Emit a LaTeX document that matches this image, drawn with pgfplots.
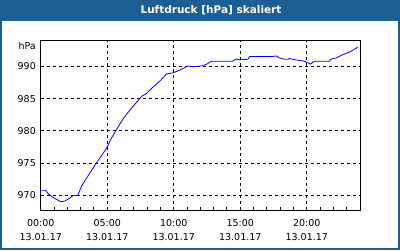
\documentclass[border=0pt]{standalone}
\usepackage{fontspec}
\setmainfont{DejaVu Sans}
\usepackage{pgfplots}
\pgfplotsset{compat=1.18}
\definecolor{titleblue}{RGB}{28,95,148}
\begin{document}
\begin{tikzpicture}[x=1pt,y=1pt]
\useasboundingbox (0,0) rectangle (400,250);
\fill[titleblue] (0,0) rectangle (400,250);
\fill[white] (2,2.5) rectangle (398,229);
\node[text=white,font=\bfseries\fontsize{10.5}{12}\selectfont] at (211,239.5) {Luftdruck [hPa] skaliert};
\node[anchor=east,font=\fontsize{9.5}{11}\selectfont,inner sep=0pt] at (36,204.3) {hPa};
\begin{axis}[
  at={(40.7pt,40pt)}, anchor=south west,
  scale only axis, width=319.3pt, height=170pt,
  xmin=0, xmax=24, ymin=967.72, ymax=994.08,
  axis line style={line width=1pt,black},
  xtick={0,5,10,15,20},
  xticklabels={{00:00\\13.01.17},{05:00\\13.01.17},{10:00\\13.01.17},{15:00\\13.01.17},{20:00\\13.01.17}},
  xticklabel style={align=center,font=\fontsize{9.5}{14.3}\selectfont,inner sep=0pt},
  xticklabel shift=9pt,
  ytick={970,975,980,985,990},
  yticklabel style={font=\fontsize{9.5}{11}\selectfont,inner sep=0pt},
  yticklabel shift=4.7pt,
  /pgf/number format/assume math mode=true,
  /pgf/number format/1000 sep={},
  major tick length=0pt,
  minor xtick={1,2,3,4,6,7,8,9,11,12,13,14,16,17,18,19,21,22,23},
  minor tick length=3pt,
  minor tick style={line width=1pt,black},
  xtick pos=bottom, ytick pos=left,
  tick align=inside,
  grid=major,
  major grid style={dash pattern=on 3pt off 3pt,line width=1pt,black},
]
\addplot[blue,line width=0.8pt] coordinates {
(0,970.78) (0.35,970.78) (0.55,970.3) (0.8,969.85) (1.17,969.4) (1.5,969.0)
(1.8,969.1) (2.15,969.5) (2.42,969.95) (2.8,970.0) (3.05,971.35) (3.3,972.2)
(3.55,973.0) (4.2,975.05) (4.95,977.3) (5.3,978.8) (5.7,980.2) (6.2,981.9)
(6.7,983.2) (7.07,984.1) (7.57,985.3) (7.95,985.8) (8.45,986.8) (8.95,987.7)
(9.45,988.8) (9.95,989.0) (10.45,989.4) (11.07,990.05) (11.4,989.95) (12.07,990.05)
(12.45,990.3) (12.82,990.77) (14.4,990.77) (14.7,991.13) (14.95,991.0) (15.57,991.1)
(15.7,991.5) (17.33,991.5) (17.7,991.6) (17.95,991.3) (18.3,991.1) (18.6,991.1)
(18.7,991.2) (19.2,990.98) (19.8,990.8) (20.07,990.55) (20.3,990.35) (20.55,990.77)
(21.7,990.77) (21.8,991.1) (22.2,991.3) (22.7,991.8) (23.2,992.2) (23.7,992.8) (23.83,992.95)
};
\end{axis}
\end{tikzpicture}
\end{document}
